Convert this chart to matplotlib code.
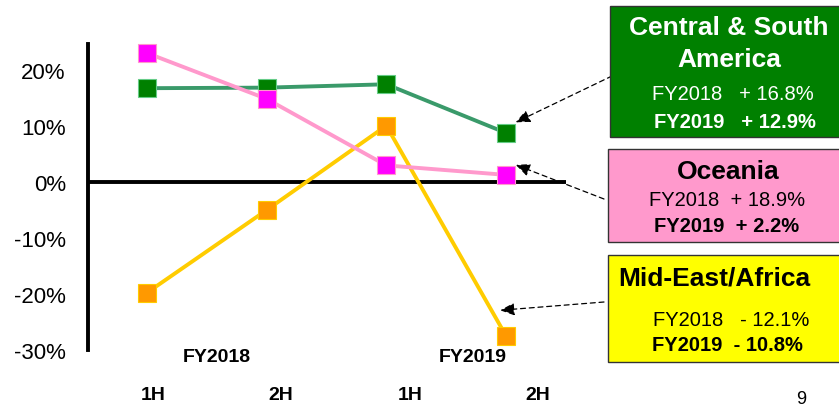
import matplotlib
matplotlib.use("Agg")
import matplotlib.pyplot as plt
from matplotlib.patches import Rectangle

plt.rcParams['font.family'] = ['Liberation Sans', 'DejaVu Sans']

periods = ["1H", "2H", "1H", "2H"]
years = ["FY2018", "FY2019"]
csa = [16.8, 16.9, 17.5, 8.8]
oceania = [23.1, 14.9, 3.0, 1.3]
mea = [-19.8, -5.0, 10.1, -27.5]
yticks = [20, 10, 0, -10, -20, -30]

W, H = 839, 410
fig = plt.figure(figsize=(W / 100, H / 100), dpi=100)

def fx(px):
    return px / W

def fy(py):
    return 1 - py / H

ax = fig.add_axes([fx(88), fy(351), fx(566) - fx(88), fy(45) - fy(351)])
x = list(range(len(periods)))

ax.plot(x, csa, color='#3a9a6a', lw=2.8, marker='s', ms=13.5,
        mfc='#008000', mec='#66cc88', mew=0.8, clip_on=False, zorder=4)
ax.plot(x, oceania, color='#ff99cc', lw=2.8, marker='s', ms=13.5,
        mfc='#ff00ff', mec='#ff99cc', mew=0.8, clip_on=False, zorder=5)
ax.plot(x, mea, color='#ffcc00', lw=2.8, marker='s', ms=13.5,
        mfc='#ff9900', mec='#ffcc00', mew=0.8, clip_on=False, zorder=3)

ax.axhline(0, color='black', lw=2.8, zorder=2)
ax.set_xlim(-0.49, 3.5)
ax.set_ylim(-30, 24.7)
for s in ['top', 'right', 'bottom']:
    ax.spines[s].set_visible(False)
ax.spines['left'].set_linewidth(2.8)
ax.set_xticks([])
ax.set_yticks(yticks)
ax.set_yticklabels([f"{v}%" for v in yticks], fontsize=16)
ax.tick_params(axis='y', length=0, pad=16)
ax.patch.set_alpha(0)

# x labels
lab_pos = [0.05, 1.12, 2.2, 3.27]
for p, lab in zip(lab_pos, periods):
    fig.text(fx(147 + p * 119.6), fy(396), lab, ha='center', va='center',
             fontsize=14, fontweight='bold')
fig.text(fx(217), fy(358), years[0], ha='center', va='center', fontsize=14, fontweight='bold')
fig.text(fx(473), fy(358), years[1], ha='center', va='center', fontsize=14, fontweight='bold')

# boxes
def box(x0, y0, x1, y1, color):
    fig.add_artist(Rectangle((fx(x0), fy(y1)), fx(x1) - fx(x0), fy(y0) - fy(y1),
                             transform=fig.transFigure, facecolor=color,
                             edgecolor='#333333', lw=1.0))

box(610, 7, 845, 138, '#008000')
box(608, 150, 845, 243, '#ff99cc')
box(608, 256, 845, 363, '#ffff00')

def t(xp, yp, s, color='black', bold=False, size=13, ha='center'):
    fig.text(fx(xp), fy(yp), s, ha=ha, va='center', color=color, fontsize=size,
             fontweight='bold' if bold else 'normal')

t(729, 28, "Central & South", 'white', True, 19)
t(729, 60, "America", 'white', True, 19)
t(733, 95, "FY2018   + 16.8%", 'white', False, 14.5)
t(735, 122, "FY2019   + 12.9%", 'white', True, 14.5)
t(728, 172, "Oceania", 'black', True, 19)
t(727, 201, "FY2018  + 18.9%", 'black', False, 14.5)
t(727, 226, "FY2019  + 2.2%", 'black', True, 14.5)
t(618, 279, "Mid-East/Africa", 'black', True, 19, ha='left')
t(731, 320, "FY2018   - 12.1%", 'black', False, 14.5)
t(727, 346, "FY2019  - 10.8%", 'black', True, 14.5)
t(801, 400, "9", 'black', False, 13)

# arrows (tips land on the marker corners, as in the reference)
arrow_kw = dict(arrowstyle='-|>,head_length=0.86,head_width=0.38', color='black',
                lw=0.9, linestyle=(0, (4, 3)), mutation_scale=10)
ax.annotate("", xy=(3.08, csa[3] + 1.9), xytext=(fx(612), fy(77)), textcoords='figure fraction',
            arrowprops=dict(**arrow_kw, shrinkA=0, shrinkB=0), annotation_clip=False)
ax.annotate("", xy=(3.08, oceania[3] + 1.8), xytext=(fx(604), fy(200)), textcoords='figure fraction',
            arrowprops=dict(**arrow_kw, shrinkA=0, shrinkB=0), annotation_clip=False)
ax.annotate("", xy=(2.95, mea[3] + 4.6), xytext=(fx(604), fy(303)), textcoords='figure fraction',
            arrowprops=dict(**arrow_kw, shrinkA=0, shrinkB=0), annotation_clip=False)

fig.savefig("out.png", dpi=100)
